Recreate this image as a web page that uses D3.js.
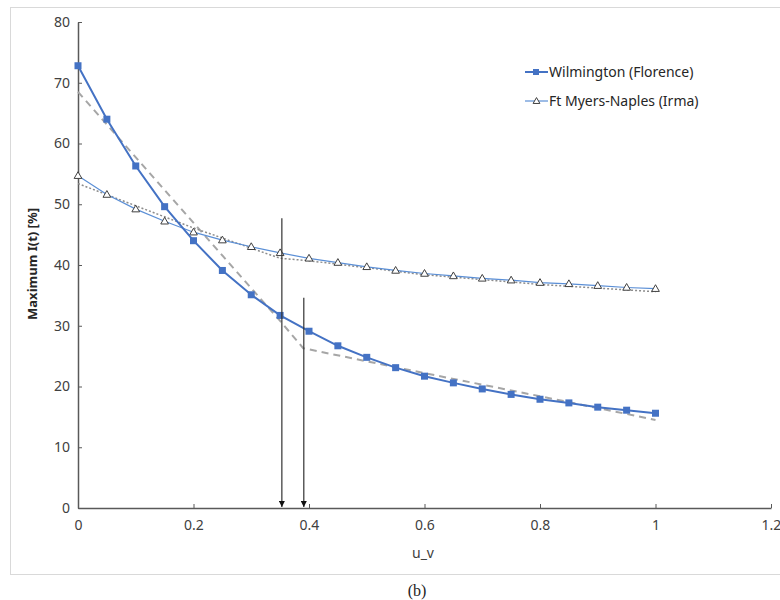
<!DOCTYPE html>
<html>
<head>
<meta charset="utf-8">
<script src="https://cdn.jsdelivr.net/npm/d3@7"></script>
<style>
  body { margin: 0; background: #fff; }
  text { font-family: "Noto Sans", "Open Sans", sans-serif; }
</style>
</head>
<body>
<svg id="chart" width="780" height="600"></svg>
<script>
// data
var uv = [0, 0.05, 0.1, 0.15, 0.2, 0.25, 0.3, 0.35, 0.4, 0.45, 0.5,
          0.55, 0.6, 0.65, 0.7, 0.75, 0.8, 0.85, 0.9, 0.95, 1];
var wilmington = [72.8, 64.0, 56.3, 49.6, 44.0, 39.1, 35.1, 31.7, 29.1, 26.7, 24.8,
                  23.1, 21.7, 20.6, 19.6, 18.7, 17.9, 17.3, 16.6, 16.1, 15.6];
var ftMyers = [54.7, 51.6, 49.2, 47.2, 45.4, 44.1, 43.0, 42.0, 41.1, 40.4, 39.7,
               39.1, 38.6, 38.2, 37.8, 37.5, 37.1, 36.9, 36.6, 36.3, 36.1];
// piecewise trend lines
var wilmTrendX = [0, 0.35, 0.39, 0.6, 0.8, 1];
var wilmTrendY = [68.5, 30.8, 26.3, 22.2, 18.4, 14.5];
var ftTrendX = [0, 0.2, 0.35, 0.4, 0.6, 0.8, 1];
var ftTrendY = [53.4, 46.1, 41.1, 40.7, 38.4, 36.8, 35.6];
// arrows: [u_v, top value]
var arrowX = [0.353, 0.391];
var arrowTop = [47.7, 34.6];

var xTicks = [0, 0.2, 0.4, 0.6, 0.8, 1, 1.2];
var yTicks = [0, 10, 20, 30, 40, 50, 60, 70, 80];
var seriesNames = ["Wilmington (Florence)", "Ft Myers-Naples (Irma)"];

var svg = d3.select("#chart");

// outer frame
svg.append("rect")
    .attr("x", 10.5).attr("y", 7.5)
    .attr("width", 780).attr("height", 567)
    .attr("fill", "none").attr("stroke", "#d9d9d9");

var x = d3.scaleLinear().domain([0, 1.2]).range([78, 771]);
var y = d3.scaleLinear().domain([0, 80]).range([508, 22]);

var axisColor = "#595959";

// y axis
var yAxis = svg.append("g")
    .attr("transform", "translate(" + x(0) + ",0)")
    .call(d3.axisLeft(y).tickValues(yTicks).tickSizeInner(-4).tickSizeOuter(0).tickPadding(8));
// x axis
var xAxis = svg.append("g")
    .attr("transform", "translate(0," + y(0) + ")")
    .call(d3.axisBottom(x).tickValues(xTicks).tickSizeInner(-4).tickSizeOuter(0).tickPadding(12)
        .tickFormat(function(d) { return d3.format("~g")(d); }));

[yAxis, xAxis].forEach(function(g) {
    g.select(".domain").attr("stroke", axisColor).attr("stroke-width", 1.5);
    g.selectAll(".tick line").attr("stroke", axisColor);
    g.selectAll(".tick text").attr("fill", "#404040")
        .style("font-size", "14px").style("font-family", "'Noto Sans', sans-serif");
});

// axis titles
svg.append("text")
    .attr("x", 423).attr("y", 558)
    .attr("text-anchor", "middle")
    .attr("fill", "#404040")
    .style("font-size", "14px")
    .text("u_v");

svg.append("text")
    .attr("transform", "translate(37,264) rotate(-90)")
    .attr("text-anchor", "middle")
    .attr("fill", "#262626")
    .style("font-size", "13px")
    .style("font-weight", "bold")
    .text("Maximum I(t) [%]");

svg.append("text")
    .attr("x", 417).attr("y", 596)
    .attr("text-anchor", "middle")
    .attr("fill", "#222")
    .style("font-family", "'Liberation Serif', serif")
    .style("font-size", "16px")
    .text("(b)");

var line = d3.line()
    .x(function(d) { return x(d[0]); })
    .y(function(d) { return y(d[1]); });

// trend lines
svg.append("path")
    .datum(d3.zip(wilmTrendX, wilmTrendY))
    .attr("d", line)
    .attr("fill", "none")
    .attr("stroke", "#a6a6a6")
    .attr("stroke-width", 2)
    .attr("stroke-dasharray", "7,5");

svg.append("path")
    .datum(d3.zip(ftTrendX, ftTrendY))
    .attr("d", line)
    .attr("fill", "none")
    .attr("stroke", "#8c8c8c")
    .attr("stroke-width", 1.5)
    .attr("stroke-dasharray", "2,2");

// Ft Myers series
svg.append("path")
    .datum(d3.zip(uv, ftMyers))
    .attr("d", line)
    .attr("fill", "none")
    .attr("stroke", "#5b8fd6")
    .attr("stroke-width", 1.2);

var tri = d3.symbol().type(d3.symbolTriangle).size(26);
svg.append("g").selectAll("path")
    .data(d3.zip(uv, ftMyers))
    .join("path")
    .attr("transform", function(d) { return "translate(" + x(d[0]) + "," + (y(d[1]) + 0.5) + ")"; })
    .attr("d", tri)
    .attr("fill", "#fff")
    .attr("stroke", "#404040")
    .attr("stroke-width", 1);

// Wilmington series
svg.append("path")
    .datum(d3.zip(uv, wilmington))
    .attr("d", line)
    .attr("fill", "none")
    .attr("stroke", "#4472c4")
    .attr("stroke-width", 2);

svg.append("g").selectAll("rect")
    .data(d3.zip(uv, wilmington))
    .join("rect")
    .attr("x", function(d) { return x(d[0]) - 3.5; })
    .attr("y", function(d) { return y(d[1]) - 3.5; })
    .attr("width", 7).attr("height", 7)
    .attr("fill", "#4472c4");

// arrows
svg.append("defs").append("marker")
    .attr("id", "arrowhead")
    .attr("viewBox", "0 0 10 10")
    .attr("refX", 10).attr("refY", 5)
    .attr("markerWidth", 6).attr("markerHeight", 6)
    .attr("markerUnits", "userSpaceOnUse")
    .attr("orient", "auto")
    .append("path")
    .attr("d", "M0,0 L10,5 L0,10 Z")
    .attr("fill", "#111");

svg.append("g").selectAll("line")
    .data(d3.zip(arrowX, arrowTop))
    .join("line")
    .attr("x1", function(d) { return x(d[0]); })
    .attr("x2", function(d) { return x(d[0]); })
    .attr("y1", function(d) { return y(d[1]); })
    .attr("y2", y(0) - 1)
    .attr("stroke", "#333")
    .attr("stroke-width", 1.2)
    .attr("marker-end", "url(#arrowhead)");

// legend
var legend = svg.append("g").attr("transform", "translate(525,72)");
var items = legend.selectAll("g")
    .data(seriesNames)
    .join("g")
    .attr("transform", function(d, i) { return "translate(0," + (i * 29) + ")"; });

items.append("line")
    .attr("x1", 0).attr("x2", 23)
    .attr("stroke", function(d, i) { return i === 0 ? "#4472c4" : "#5b8fd6"; })
    .attr("stroke-width", function(d, i) { return i === 0 ? 2 : 1.2; });

items.each(function(d, i) {
    var g = d3.select(this);
    if (i === 0) {
        g.append("rect").attr("x", 8).attr("y", -3).attr("width", 6).attr("height", 6).attr("fill", "#4472c4");
    } else {
        g.append("path").attr("transform", "translate(11.5,0.5)")
            .attr("d", d3.symbol().type(d3.symbolTriangle).size(20))
            .attr("fill", "#fff").attr("stroke", "#404040");
    }
});

items.append("text")
    .attr("x", 24).attr("y", 5)
    .attr("fill", "#262626")
    .style("font-size", "14px")
    .text(function(d) { return d; });
</script>
</body>
</html>
